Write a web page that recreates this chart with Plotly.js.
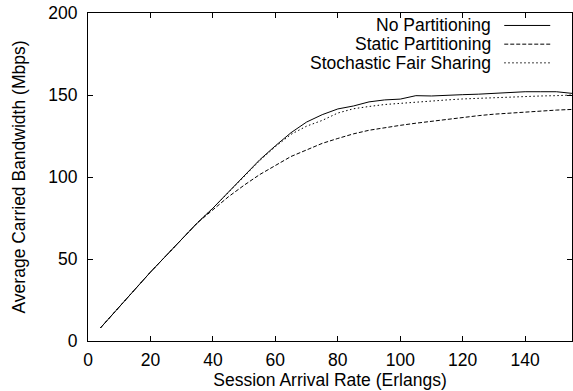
<!DOCTYPE html>
<html>
<head>
<meta charset="utf-8">
<script src="https://cdn.plot.ly/plotly-3.0.1.min.js"></script>
<style>html,body{margin:0;padding:0;background:#fff;}#chart{width:573px;height:391px;}</style>
</head>
<body>
<div id="chart"></div>
<script>
// Session arrival rate (Erlangs)
const arrivalRate = [4, 10, 15, 20, 25, 30, 35, 40, 45, 50, 55, 60, 65, 70, 75, 80, 85, 90, 95, 100, 105, 110, 115, 120, 125, 130, 135, 140, 145, 150, 155];
// Average carried bandwidth (Mbps)
const noPartitioning = [8, 21, 31.5, 42, 52, 62, 72, 81, 91, 101, 110.5, 119, 127, 133.5, 138, 141.5, 143.3, 145.8, 147, 147.5, 149.6, 149.4, 150, 150.2, 150.5, 151, 151.2, 152, 152, 152, 151];
const staticPartitioning = [8, 21, 31.5, 42, 52, 62, 72, 80, 88, 95, 101.5, 107, 112.5, 116.5, 120.5, 123.5, 126.3, 128.5, 130.2, 131.5, 132.8, 134, 135, 136.4, 137.4, 138.3, 139, 139.7, 140.3, 140.8, 141.2];
const stochasticFairSharing = [8, 21, 31.5, 42, 52, 62, 72, 81, 90.5, 100.5, 110, 118.5, 126, 131, 134.5, 139, 141.6, 143, 144.2, 144.9, 145.7, 146.3, 147, 147.6, 148, 148.5, 149, 149.2, 149.4, 149.6, 150];
const seriesNames = ["No Partitioning", "Static Partitioning", "Stochastic Fair Sharing"];
const dashes = ["solid", "4px,2px", "1.5px,2.5px"];
const seriesValues = [noPartitioning, staticPartitioning, stochasticFairSharing];

const FONT = "Liberation Sans, Arial, Helvetica, sans-serif";
const traces = seriesValues.map((v, i) => ({
  x: arrivalRate, y: v, type: "scatter", mode: "lines", name: seriesNames[i],
  line: {color: "#000", width: 1, dash: dashes[i]}, showlegend: false
}));

// gnuplot-style legend: right-aligned text with line sample to its right
const rowY = [0.962, 0.905, 0.848];
const annotations = seriesNames.map((n, i) => ({
  xref: "paper", yref: "paper", x: 0.835, y: rowY[i], xanchor: "right", yanchor: "middle",
  text: n, showarrow: false, borderpad: 0, font: {family: FONT, size: 17.5, color: "#000"}
}));
const shapes = seriesNames.map((n, i) => ({
  type: "line", xref: "paper", yref: "paper", x0: 0.86, x1: 0.955, y0: rowY[i], y1: rowY[i],
  line: {color: "#000", width: 1, dash: dashes[i]}
}));

const axisCommon = {
  showgrid: false, zeroline: false, showline: true, linecolor: "#000", linewidth: 1,
  mirror: "allticks", ticks: "inside", ticklen: 5, tickcolor: "#000",
  tickfont: {family: FONT, size: 17.5, color: "#000"}
};
const layout = {
  width: 573, height: 391,
  margin: {l: 88, r: 1, t: 13, b: 50},
  paper_bgcolor: "#fff", plot_bgcolor: "#fff",
  font: {family: FONT, size: 17.5, color: "#000"},
  xaxis: Object.assign({}, axisCommon, {
    range: [0, 155], tickvals: [0, 20, 40, 60, 80, 100, 120, 140],
    ticklabelstandoff: 3,
    title: {text: "Session Arrival Rate (Erlangs)", standoff: 0, font: {family: FONT, size: 17.5, color: "#000"}}
  }),
  yaxis: Object.assign({}, axisCommon, {
    range: [0, 200], tickvals: [0, 50, 100, 150, 200],
    ticklabelstandoff: 6,
    title: {text: "Average Carried Bandwidth (Mbps)", standoff: 18, font: {family: FONT, size: 17.5, color: "#000"}}
  }),
  annotations: annotations,
  shapes: shapes
};
Plotly.newPlot("chart", traces, layout, {displayModeBar: false, staticPlot: true});
</script>
</body>
</html>
